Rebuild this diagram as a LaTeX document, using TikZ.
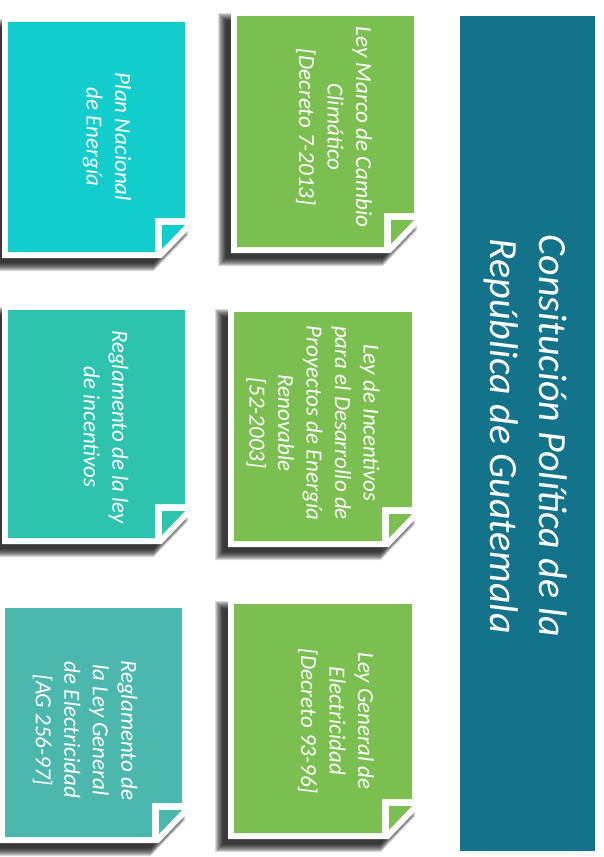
\documentclass[tikz,border=0pt]{standalone}
\usepackage{fontspec}
\setmainfont{Carlito}
\definecolor{cyanc}{HTML}{13CCCC}
\definecolor{tealc}{HTML}{2DC3AC}
\definecolor{seac}{HTML}{4CB7AC}
\definecolor{greenc}{HTML}{7ABF50}
\definecolor{barc}{HTML}{13738A}
\tikzset{
  cardtext/.style={text=white, font=\fontsize{23}{28.5}\selectfont\itshape, align=center, rotate=-90, inner sep=0pt},
  titletext/.style={text=white, font=\fontsize{40}{49}\selectfont\itshape, align=center, rotate=-90, inner sep=0pt},
}
% #1 x0, #2 y0, #3 x1, #4 y1 (inner fill), #5 colour
\newcommand\stickynote[5]{%
  \foreach \b in {5,4,...,-3}{%
    \fill[black,opacity=0.15] (#1-14-\b,#2+2-\b) -- (#3-2+\b,#2+2-\b) -- (#3-2+\b,#4-16.6) -- (#3-31.3,#4+14+\b) -- (#1-14-\b,#4+14+\b) -- cycle;
  }
  \fill[white] (#1-6,#2-6) -- (#3+6,#2-6) -- (#3+6,#4-24.6) -- (#3-23.3,#4+6) -- (#1-6,#4+6) -- cycle;
  \fill[#5] (#1,#2) -- (#3,#2) -- (#3,#4-34) -- (#3-30,#4-34) -- (#3-30,#4) -- (#1,#4) -- cycle;
  \fill[#5] (#3-23,#4-27) -- (#3,#4-27) -- (#3-23,#4-3) -- cycle;
}
\begin{document}
\begin{tikzpicture}[x=1pt,y=-1pt]
\useasboundingbox (0,0) rectangle (603,857);
\fill[white] (0,0) rectangle (603,857);
% title bar
\fill[barc] (460,16) rectangle (595,851);
\node[titletext] (title) at (526,436) {Consitución Política de la\\República de Guatemala};
% cards
\stickynote{8}{22}{185}{252}{cyanc}
\stickynote{237}{16}{414}{247}{greenc}
\stickynote{8}{310}{185}{538}{tealc}
\stickynote{234}{312}{412}{541}{greenc}
\stickynote{5}{608}{182}{837}{seac}
\stickynote{234}{604}{412}{833}{greenc}
% texts
\node[cardtext] (plan) at (107,137) {Plan Nacional\\de Energía};
\node[cardtext] (marco) at (334,127) {Ley Marco de Cambio\\Climático\\{}[Decreto 7-2013]};
\node[cardtext] (reglinc) at (106,427) {Reglamento de la ley\\de incentivos};
\node[cardtext] (incent) at (313,423) {Ley de Incentivos\\para el Desarrollo de\\Proyectos de Energía\\Renovable\\{}[52-2003]};
\node[cardtext] (reglgen) at (85,730) {Reglamento de\\la Ley General\\de Electricidad\\{}[AG 256-97]};
\node[cardtext] (general) at (336,721) {Ley General de\\Electricidad\\{}[Decreto 93-96]};
\end{tikzpicture}
\end{document}
